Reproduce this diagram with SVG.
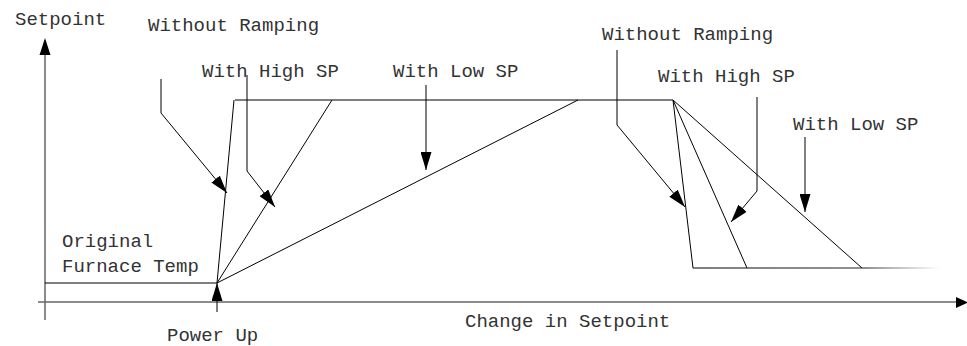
<svg xmlns="http://www.w3.org/2000/svg" width="967" height="346" viewBox="0 0 967 346">
<style>
  .t { font-family: "Liberation Mono", "DejaVu Sans Mono", monospace; font-size: 19px; fill: #333; }
  .ax { stroke: #666; stroke-width: 1.5; fill: none; }
  .ln { stroke: #000; stroke-width: 1; fill: none; }
  .ptr { stroke: #000; stroke-width: 1; fill: none; marker-end: url(#ah); }
</style>
<defs>
  <marker id="ah" viewBox="0 0 18 11" refX="18" refY="5.5" markerWidth="18" markerHeight="11" markerUnits="userSpaceOnUse" orient="auto">
    <path d="M0,0 L18,5.5 L0,11 z" fill="#000"/>
  </marker>
  <linearGradient id="fade" gradientUnits="userSpaceOnUse" x1="693" y1="0" x2="940" y2="0">
    <stop offset="0" stop-color="#000"/>
    <stop offset="0.7" stop-color="#222"/>
    <stop offset="1" stop-color="#fff"/>
  </linearGradient>
</defs>

<g id="axes">
  <line class="ax" x1="45" y1="320" x2="45" y2="54"/>
  <path d="M45,38 L50.5,55 L39.5,55 z" fill="#000"/>
  <line class="ax" x1="38" y1="302" x2="956" y2="302"/>
  <path d="M968,302.5 L956,297 L956,308 z" fill="#000"/>
</g>

<g id="curves">
  <line class="ln" x1="45" y1="283" x2="217" y2="283"/>
  <line class="ln" x1="217" y1="283" x2="234" y2="100"/>
  <line class="ln" x1="217" y1="283" x2="332" y2="100"/>
  <line class="ln" x1="217" y1="283" x2="578" y2="100"/>
  <line class="ln" x1="235" y1="100" x2="673" y2="100"/>
  <line class="ln" x1="673" y1="100" x2="693" y2="268"/>
  <line class="ln" x1="673" y1="100" x2="747" y2="268"/>
  <line class="ln" x1="673" y1="100" x2="862" y2="268" stroke="#333"/>
  <line x1="693" y1="268" x2="940" y2="268" stroke="url(#fade)" stroke-width="1"/>
</g>

<g id="connectors">
  <polyline class="ptr" points="217,312 217,283"/>
  <polyline class="ptr" points="161,79 161,113 227,193"/>
  <polyline class="ptr" points="247,75 247,171 275,207"/>
  <polyline class="ptr" points="426,85 426,170"/>
  <polyline class="ptr" points="617,50 617,125 685,207"/>
  <polyline class="ptr" points="757,97 757,191 731,222"/>
  <polyline class="ptr" points="805,137 805,212"/>
</g>

<g id="label-setpoint"><text class="t" x="15" y="25">Setpoint</text></g>
<g id="label-without-ramping-1"><text class="t" x="148" y="31">Without Ramping</text></g>
<g id="label-with-high-sp-1"><text class="t" x="202" y="77">With High SP</text></g>
<g id="label-with-low-sp-1"><text class="t" x="393" y="77">With Low SP</text></g>
<g id="label-without-ramping-2"><text class="t" x="602" y="40">Without Ramping</text></g>
<g id="label-with-high-sp-2"><text class="t" x="658" y="82">With High SP</text></g>
<g id="label-with-low-sp-2"><text class="t" x="793" y="130">With Low SP</text></g>
<g id="label-original-furnace-temp">
  <text class="t" x="62" y="247">Original</text>
  <text class="t" x="62" y="272">Furnace Temp</text>
</g>
<g id="label-power-up"><text class="t" x="167" y="341">Power Up</text></g>
<g id="label-change-in-setpoint"><text class="t" x="465" y="327">Change in Setpoint</text></g>
</svg>
